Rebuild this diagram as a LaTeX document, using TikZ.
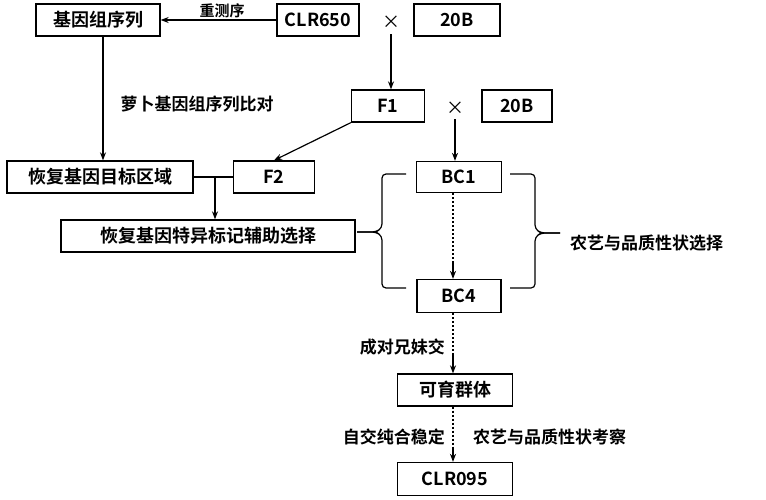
\documentclass[tikz,border=0pt]{standalone}
\usepackage{fontspec}
\setmainfont{Noto Sans CJK SC}[BoldFont={Noto Sans CJK SC Bold}]
\usetikzlibrary{arrows.meta}
\begin{document}
\begin{tikzpicture}[x=1pt,y=-1pt,
  box/.style={draw,line width=1.3pt,inner sep=0pt,font=\bfseries\fontsize{18}{18}\selectfont},
  lab/.style={inner sep=0pt,font=\bfseries\fontsize{17}{17}\selectfont},
  ln/.style={line width=1.2pt},
  ar/.style={ln,-{Stealth[length=8pt,width=6pt]}},
  dt/.style={line width=1.6pt,dash pattern=on 2pt off 2pt}]
\useasboundingbox (0,0) rectangle (766,500);
\node[box,minimum width=124pt,minimum height=32pt] (g) at (98,20) {基因组序列};
\node[box,minimum width=82pt,minimum height=32pt] (clr) at (318,20) {CLR650};
\node[lab,font=\fontsize{18}{18}\selectfont] (x1) at (391,22) {×};
\node[box,minimum width=86pt,minimum height=32pt] (b1) at (457,20) {20B};
\node[lab,font=\bfseries\fontsize{15}{15}\selectfont] (rc) at (222,11) {重测序};
\node[box,minimum width=73pt,minimum height=32pt] (f1) at (388,106) {F1};
\node[lab,font=\fontsize{18}{18}\selectfont] (x2) at (455,108) {×};
\node[box,minimum width=70pt,minimum height=32pt] (b2) at (517,106) {20B};
\node[lab] (lb) at (197,104) {萝卜基因组序列比对};
\node[box,minimum width=186pt,minimum height=32pt] (hm) at (100,177) {恢复基因目标区域};
\node[box,minimum width=81pt,minimum height=32pt] (f2) at (274,177) {F2};
\node[box,minimum width=294pt,minimum height=32pt] (hs) at (208,236) {恢复基因特异标记辅助选择};
\node[box,minimum width=85pt,minimum height=31pt] (bc1) at (459,177) {BC1};
\node[box,minimum width=84pt,minimum height=33pt] (bc4) at (459,296) {BC4};
\node[lab,anchor=west] (ny) at (570,243) {农艺与品质性状选择};
\node[lab,anchor=east] (cd) at (445,347) {成对兄妹交};
\node[box,minimum width=115pt,minimum height=32pt] (ky) at (455,390) {可育群体};
\node[lab,anchor=east] (zj) at (445,437) {自交纯合稳定};
\node[lab,anchor=west] (kc) at (473,437) {农艺与品质性状考察};
\node[box,minimum width=115pt,minimum height=33pt] (cf) at (455,479) {CLR095};
\coordinate (t1) at (357,232);
\coordinate (t2) at (560,233);
\coordinate (j) at (215,177);
\coordinate (d1) at (453,262);
\coordinate (d2) at (453,355);
\coordinate (d3) at (453,447);
% connectors
\draw[ar] (clr.west) -- (g.east);
\draw[ar] (x1.south) ++(0,6) -- (f1.north -| x1);
\draw[ar] (g.south -| 103,0) -- (hm.north -| 103,0);
\draw[ar] (f1.south west) -- (f2.north);
\draw[ln] (hm.east) -- (f2.west);
\draw[ar] (j) -- (hs.north -| j);
\draw[ar] (x2.south) ++(0,5) -- (bc1.north -| x2);
\draw[dt] (bc1.south -| d1) -- (d1);
\draw[ar] (d1) -- (bc4.north -| d1);
\draw[dt] (bc4.south -| d2) -- (d2);
\draw[ar] (d2) -- (ky.north -| d2);
\draw[dt] (ky.south -| d3) -- (d3);
\draw[ar] (d3) -- (cf.north -| d3);
% braces
\draw[ln,rounded corners=4pt] (406,174) -- (382,174) -- (382,228) -- (376,232) -- (t1);
\draw[ln,rounded corners=4pt] (t1) -- (376,232) -- (382,236) -- (382,288) -- (406,288);
\draw[ln,rounded corners=4pt] (510,174) -- (535,174) -- (535,229) -- (541,233) -- (t2);
\draw[ln,rounded corners=4pt] (t2) -- (541,233) -- (535,237) -- (535,288) -- (510,288);
\end{tikzpicture}
\end{document}
